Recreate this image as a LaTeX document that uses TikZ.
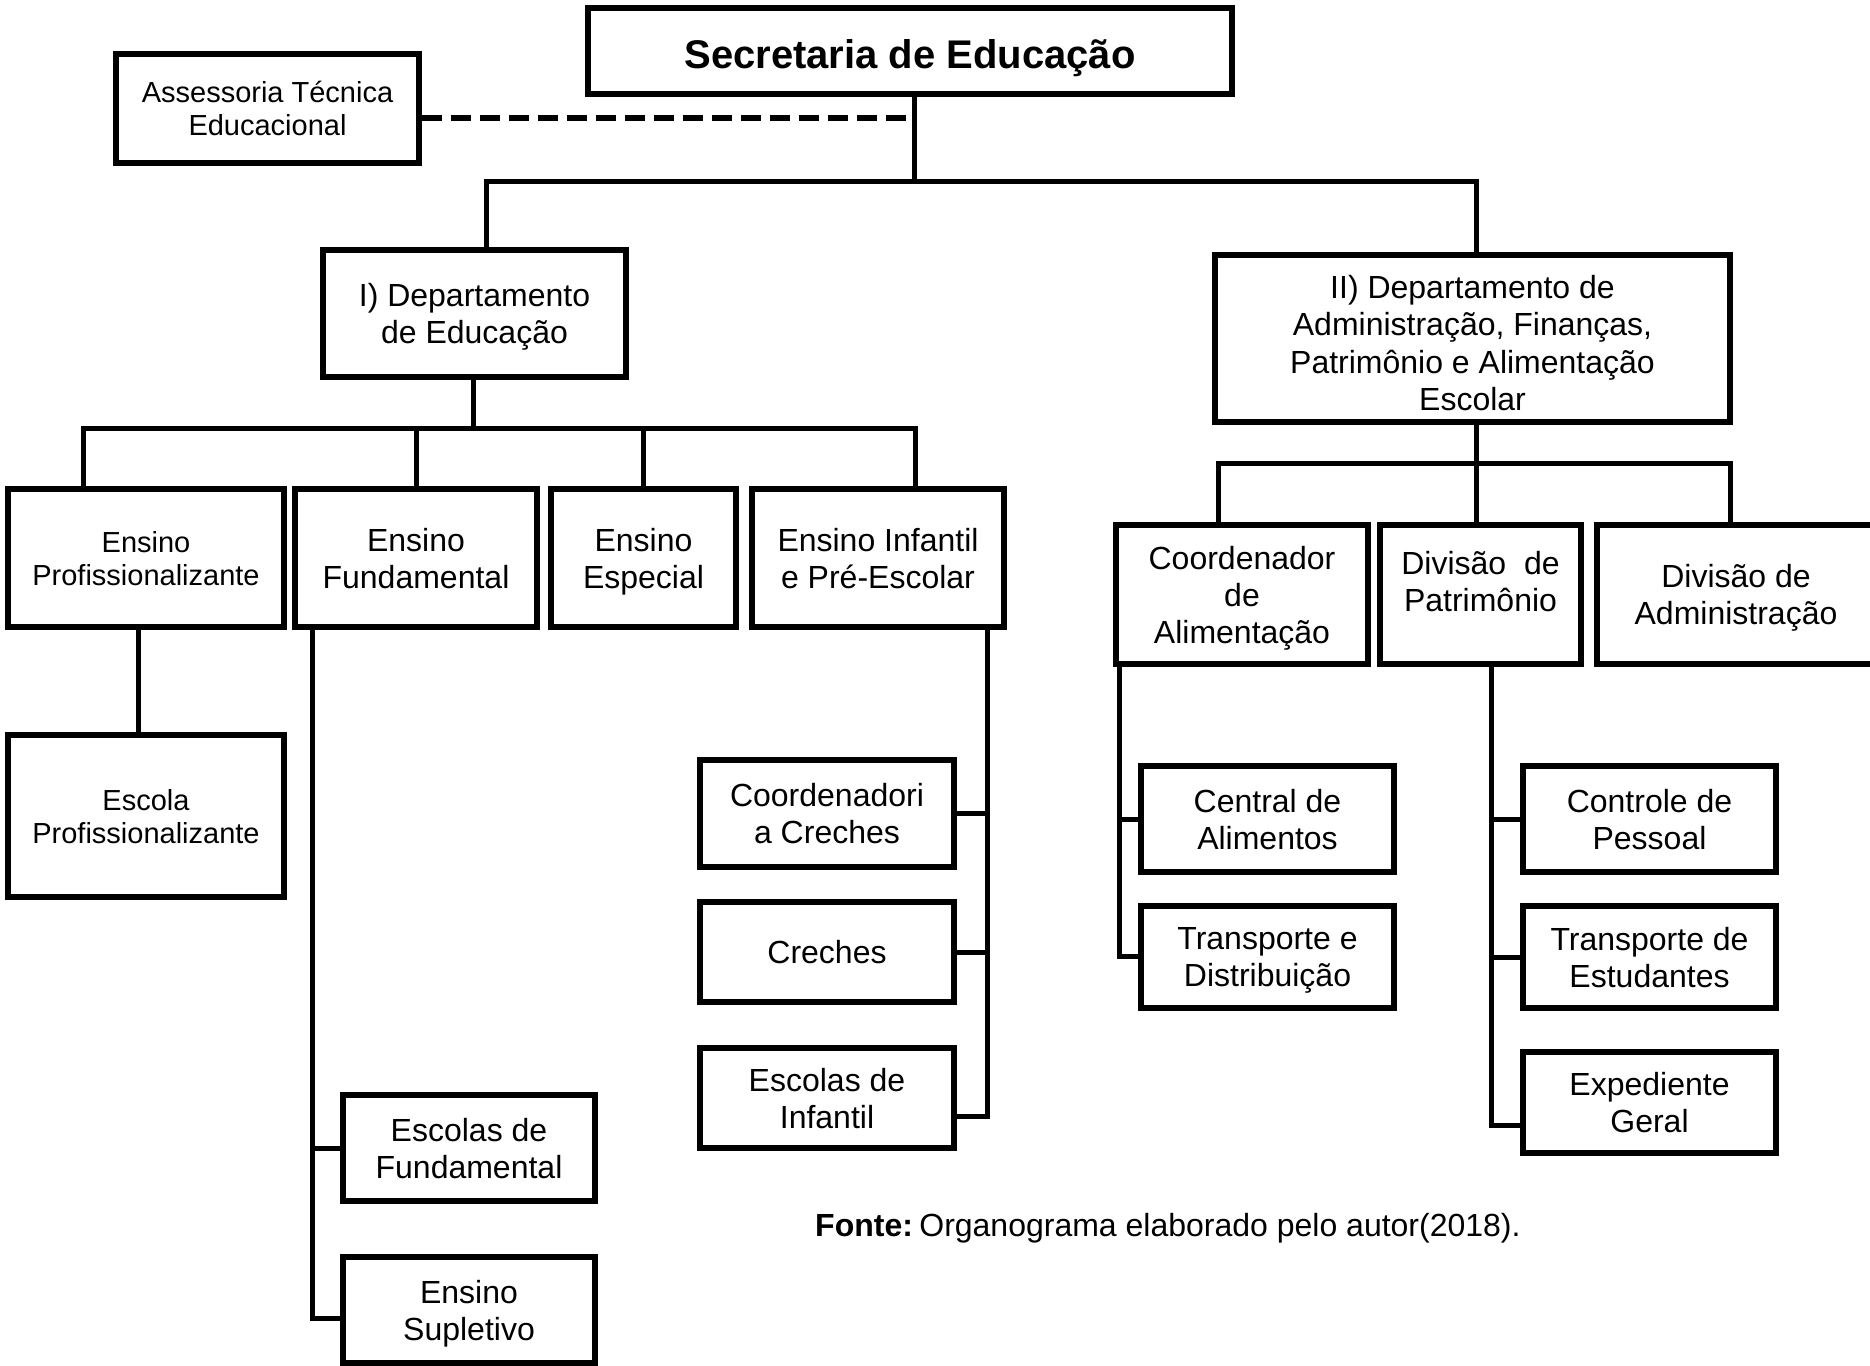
\documentclass[tikz,border=0pt]{standalone}
\usepackage{fontspec}
\setmainfont{Liberation Sans}
\tikzset{
  box/.style={draw, line width=5.5pt, inner sep=0pt, align=center, text depth=0pt, font=\fontsize{32}{37}\selectfont},
  smalltext/.style={font=\fontsize{29}{33}\selectfont},
  conn/.style={line width=5pt},
  dashconn/.style={line width=5.5pt, dash pattern=on 20pt off 9pt},
}
\begin{document}
\begin{tikzpicture}[x=1pt,y=-1pt]
\useasboundingbox (0,0) rectangle (1870,1365);
\fill[white] (0,0) rectangle (1870,1365);

% nodes
\node[box, minimum width=644, minimum height=86, text height=34pt, font=\fontsize{40}{46}\selectfont\bfseries] (sec) at (910,51) {Secretaria de Educação};
\node[box, smalltext, minimum width=303, minimum height=109] (ass) at (267.5,108.5) {Assessoria Técnica\\Educacional};
\node[box, minimum width=303, minimum height=127] (depI) at (474.5,313.5) {I) Departamento\\de Educação};
\node[box, minimum width=515, minimum height=167, text height=144pt, font=\fontsize{32}{37.5}\selectfont] (depII) at (1472.5,338.5) {II) Departamento de\\Administração, Finanças,\\Patrimônio e Alimentação\\Escolar};

\node[box, smalltext, minimum width=276, minimum height=138] (ep) at (146,558) {Ensino\\Profissionalizante};
\node[box, minimum width=242, minimum height=138] (ef) at (416,558) {Ensino\\Fundamental};
\node[box, minimum width=185, minimum height=138] (ee) at (643.5,558) {Ensino\\Especial};
\node[box, minimum width=252, minimum height=138] (ei) at (878,558) {Ensino Infantil\\e Pré-Escolar};

\node[box, smalltext, minimum width=276, minimum height=162] (esp) at (146,816) {Escola\\Profissionalizante};
\node[box, minimum width=252, minimum height=106] (esf) at (469,1148) {Escolas de\\Fundamental};
\node[box, minimum width=252, minimum height=106] (sup) at (469,1310) {Ensino\\Supletivo};

\node[box, minimum width=254, minimum height=107] (cc) at (827,813.5) {Coordenadori\\a Creches};
\node[box, minimum width=254, minimum height=100] (cr) at (827,952) {Creches};
\node[box, minimum width=254, minimum height=100] (ein) at (827,1098) {Escolas de\\Infantil};

\node[box, minimum width=252, minimum height=139] (ca) at (1242,594.5) {Coordenador\\de\\Alimentação};
\node[box, minimum width=201, minimum height=139, text depth=26pt] (dp) at (1480.5,594.5) {Divisão\ \ de\\Patrimônio};
\node[box, minimum width=278, minimum height=139] (da) at (1736,594.5) {Divisão de\\Administração};

\node[box, minimum width=253, minimum height=106] (cal) at (1267.5,819) {Central de\\Alimentos};
\node[box, minimum width=253, minimum height=102] (td) at (1267.5,957) {Transporte e\\Distribuição};
\node[box, minimum width=253, minimum height=106] (cp) at (1649.5,819) {Controle de\\Pessoal};
\node[box, minimum width=253, minimum height=102] (te) at (1649.5,957) {Transporte de\\Estudantes};
\node[box, minimum width=253, minimum height=101] (eg) at (1649.5,1102.5) {Expediente\\Geral};

\node[anchor=west, inner sep=0pt, font=\fontsize{32}{37}\selectfont] (fonte) at (815,1228) {\textbf{Fonte:}\hspace{0.2em}Organograma elaborado pelo autor(2018).};

% connectors
\coordinate (t0) at (914,181);
\coordinate (dj) at (912,118);
\draw[conn] (sec.south -| t0) -- (t0);
\draw[dashconn] (ass.east |- dj) -- (dj);
\coordinate (b1) at (486,181);
\coordinate (b2) at (1476,181);
\draw[conn] (depI.north -| b1) -- (b1) -- (b2) -- (depII.north -| b2);

\coordinate (c1) at (473,428);
\coordinate (k1) at (83,428);
\coordinate (k4) at (915,428);
\draw[conn] (depI.south -| c1) -- (c1);
\draw[conn] (ep.north -| k1) -- (k1) -- (k4) -- (ei.north -| k4);
\draw[conn] (ef.north) -- (ef.north |- k1);
\draw[conn] (ee.north) -- (ee.north |- k1);

\coordinate (m0) at (1476,463);
\coordinate (m1) at (1218,463);
\coordinate (m3) at (1730,463);
\draw[conn] (depII.south -| m0) -- (m0);
\draw[conn] (ca.north -| m1) -- (m1) -- (m3) -- (da.north -| m3);
\draw[conn] (dp.north -| m0) -- (m0);

\coordinate (p0) at (138,700);
\draw[conn] (ep.south -| p0) -- (esp.north -| p0);

\coordinate (f0) at (312,1318);
\coordinate (f1) at (312,1148);
\draw[conn] (ef.south -| f0) -- (f0) -- (sup.west |- f0);
\draw[conn] (f1) -- (esf.west);

\coordinate (g0) at (987,1116);
\draw[conn] (ei.south -| g0) -- (g0) -- (ein.east |- g0);
\draw[conn] (cc.east) -- (cc.east -| g0);
\draw[conn] (cr.east) -- (cr.east -| g0);

\coordinate (h0) at (1119,956);
\draw[conn] (ca.south -| h0) -- (h0) -- (td.west |- h0);
\draw[conn] (cal.west) -- (cal.west -| h0);

\coordinate (q0) at (1491,1125);
\draw[conn] (dp.south -| q0) -- (q0) -- (eg.west |- q0);
\draw[conn] (cp.west) -- (cp.west -| q0);
\draw[conn] (te.west) -- (te.west -| q0);
\end{tikzpicture}
\end{document}
